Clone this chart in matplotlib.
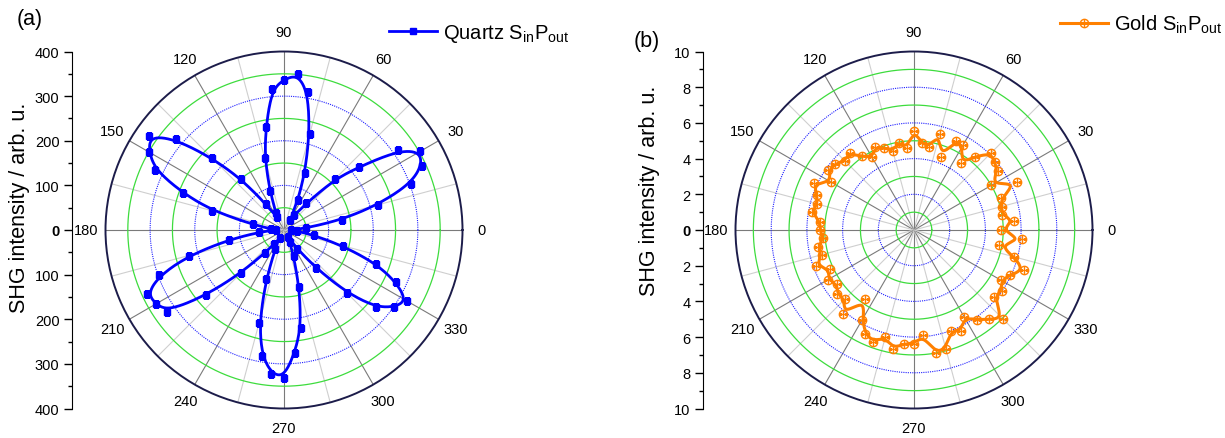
import numpy as np
import matplotlib
matplotlib.use('Agg')
import matplotlib.pyplot as plt
from matplotlib.lines import Line2D

plt.rcParams['font.family'] = ['Liberation Sans', 'DejaVu Sans']
plt.rcParams['mathtext.fontset'] = 'custom'
plt.rcParams['mathtext.rm'] = 'Liberation Sans'
plt.rcParams['mathtext.it'] = 'Liberation Sans:italic'

# ---------------- data ----------------
angles = list(range(0, 360, 5))

quartz_val = [15, 50, 131, 218, 302, 341, 353, 311, 219, 162, 78, 40,
              25, 75, 137, 222, 313, 351, 337, 317, 234, 168, 92, 42,
              33, 72, 150, 228, 317, 369, 349, 319, 241, 166, 71, 30,
              18, 56, 126, 221, 297, 339, 331, 319, 228, 136, 67, 38,
              20, 46, 118, 215, 286, 323, 331, 276, 222, 133, 63, 30,
              18, 51, 111, 200, 270, 301, 319, 278, 220, 136, 68, 30]

gold_val = [4.85, 5.63, 5.00, 5.08, 5.20, 6.36, 5.00, 5.72, 5.90, 6.10, 5.36, 4.57,
            5.47, 5.52, 4.35, 5.56, 4.72, 4.90, 5.57, 4.60, 4.97, 4.60, 4.90, 5.12,
            4.71, 5.04, 5.60, 5.50, 5.75, 5.85, 5.35, 6.20, 5.81, 5.60, 5.83, 5.28,
            5.27, 5.10, 5.44, 5.36, 5.82, 5.21, 5.57, 5.27, 5.60, 5.47, 6.17, 4.75,
            5.80, 6.43, 6.66, 6.20, 6.75, 6.39, 6.37, 5.93, 7.00, 6.88, 6.01, 6.23,
            5.65, 6.15, 6.51, 7.05, 5.85, 5.99, 5.65, 5.95, 6.56, 5.80, 4.85, 6.10]

theta_labels = [str(a) for a in range(0, 360, 30)]
quartz_label = r'Quartz S$_{\mathrm{in}}$P$_{\mathrm{out}}$'
gold_label = r'Gold S$_{\mathrm{in}}$P$_{\mathrm{out}}$'
ylabel = 'SHG intensity / arb. u.'

BLUE = '#0000ff'
ORANGE = '#ff8000'
GREEN = '#3ddc3d'
RING_BLUE = '#2020ff'
NAVY = '#1c1c4a'

W, H = 1225, 439
fig = plt.figure(figsize=(W / 100, H / 100), dpi=100)


def bspline_closed(theta_deg, r, n=16):
    th = np.deg2rad(theta_deg)
    r = np.asarray(r, float)
    P = np.column_stack([r * np.cos(th), r * np.sin(th)])
    N = len(P)
    t = np.linspace(0, 1, n, endpoint=False)
    b0 = (1 - t) ** 3 / 6
    b1 = (3 * t ** 3 - 6 * t ** 2 + 4) / 6
    b2 = (-3 * t ** 3 + 3 * t ** 2 + 3 * t + 1) / 6
    b3 = t ** 3 / 6
    segs = []
    for i in range(N):
        p0, p1, p2, p3 = P[(i - 1) % N], P[i], P[(i + 1) % N], P[(i + 2) % N]
        segs.append(np.outer(b0, p0) + np.outer(b1, p1) + np.outer(b2, p2) + np.outer(b3, p3))
    pts = np.vstack(segs + [segs[0][:1]])
    return np.unwrap(np.arctan2(pts[:, 1], pts[:, 0])), np.hypot(pts[:, 0], pts[:, 1])


def setup_polar(rect, rmax, green, blue):
    ax = fig.add_axes(rect, projection='polar')
    ax.grid(False)
    circ = np.linspace(0, 2 * np.pi, 721)
    for rr in green:
        ax.plot(circ, np.full_like(circ, rr), color=GREEN, lw=0.9, zorder=1)
    for rr in blue:
        ax.plot(circ, np.full_like(circ, rr), color=RING_BLUE, lw=0.8,
                ls=(0, (1, 1)), zorder=1)
    for a in range(0, 360, 15):
        col = '#7a7a7a' if a % 30 == 0 else '#cfcfcf'
        ax.plot([np.deg2rad(a)] * 2, [0, rmax], color=col, lw=0.8, zorder=0.9)
    ax.set_ylim(0, rmax)
    ax.set_yticks([])
    ax.set_xticks(np.deg2rad(np.arange(0, 360, 30)))
    ax.set_xticklabels(theta_labels, fontsize=10.5)
    ax.tick_params(axis='x', pad=7, length=0)
    ax.spines['polar'].set_color(NAVY)
    ax.spines['polar'].set_linewidth(1.4)
    return ax


def setup_yaxis(x, lim, major, minor):
    ay = fig.add_axes([x / W, (H - 409.5) / H, 1.0 / W, 357 / H])
    ay.patch.set_alpha(0)
    for s in ['right', 'top', 'bottom']:
        ay.spines[s].set_visible(False)
    ay.set_xticks([])
    ay.set_ylim(-lim, lim)
    ticks = np.arange(-lim, lim + major / 2, major)
    ay.set_yticks(ticks)
    ay.set_yticklabels([f'{abs(v):g}' for v in ticks], fontsize=10.5)
    ay.set_yticks(np.arange(-lim, lim + minor / 2, minor), minor=True)
    ay.tick_params(axis='y', which='major', direction='out', length=6, width=1, pad=3)
    ay.tick_params(axis='y', which='minor', direction='out', length=3, width=1)
    for lab in ay.get_yticklabels():
        if lab.get_text() == '0':
            lab.set_fontweight('bold')
    return ay


# ---------------- (a) quartz ----------------
axq = setup_polar([105.5 / W, (H - 409.5) / H, 357 / W, 357 / H], 400,
                  [50, 150, 250, 350], [100, 200, 300])
th, rr = bspline_closed(angles, quartz_val)
axq.plot(th, rr, color=BLUE, lw=2.0, zorder=3)
axq.plot(np.deg2rad(angles), quartz_val, 's', ms=4.5, color=BLUE, zorder=4)
axq.set_ylim(0, 400)
setup_yaxis(72, 400, 100, 50)

# ---------------- (b) gold ----------------
axg = setup_polar([735.5 / W, (H - 409.5) / H, 357 / W, 357 / H], 10,
                  [1, 3, 5, 7, 9], [2, 4, 6, 8])
th, rr = bspline_closed(angles, gold_val)
axg.plot(th, rr, color=ORANGE, lw=2.2, zorder=3)
axg.plot(np.deg2rad(angles), gold_val, 'o', ms=6, mfc='none', mec=ORANGE, mew=1.0, zorder=4)
axg.plot(np.deg2rad(angles), gold_val, '+', ms=6, mec=ORANGE, mew=1.0, zorder=4)
axg.set_ylim(0, 10)
setup_yaxis(703, 10, 2, 1)

# ---------------- texts ----------------
fig.text(20 / W, 1 - 207.5 / H, ylabel, rotation=90, ha='center', va='center', fontsize=15.5)
fig.text(649 / W, 1 - 191 / H, ylabel, rotation=90, ha='center', va='center', fontsize=15.5)
fig.text(17 / W, 1 - 20 / H, '(a)', ha='left', va='center', fontsize=15.5)
fig.text(634 / W, 1 - 42 / H, '(b)', ha='left', va='center', fontsize=15.5)

hq = Line2D([], [], color=BLUE, lw=2, marker='s', ms=5)
fig.legend([hq], [quartz_label], loc='center left', bbox_to_anchor=(389 / W, 1 - 34 / H),
           frameon=False, fontsize=14.5, handlelength=2.4, handletextpad=0.3,
           borderpad=0, borderaxespad=0, numpoints=1)
hg1 = Line2D([], [], color=ORANGE, lw=2.2, marker='o', ms=6, mfc='none', mew=1)
hg2 = Line2D([], [], color=ORANGE, lw=0, marker='+', ms=6, mew=1)
fig.legend([(hg1, hg2)], [gold_label], loc='center left', bbox_to_anchor=(1060 / W, 1 - 25 / H),
           frameon=False, fontsize=14.5, handlelength=2.4, handletextpad=0.3,
           borderpad=0, borderaxespad=0, numpoints=1)

fig.savefig('out.png', dpi=100)
